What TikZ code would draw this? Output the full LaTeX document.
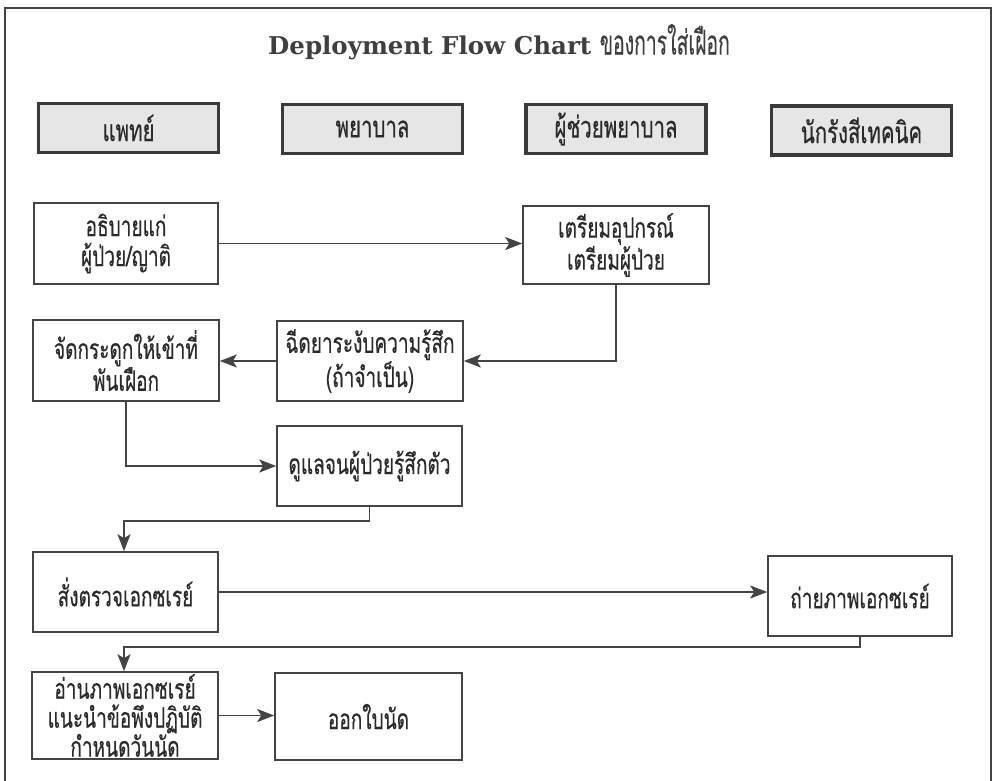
\documentclass[tikz,border=0pt]{standalone}
\usepackage{fontspec}
\newfontfamily\thaifont[Script=Thai,FakeStretch=0.68,FakeBold=0.4]{Loma}
\newfontfamily\thaititle[Script=Thai,FakeStretch=0.57,FakeBold=0.3]{Loma}
\newfontfamily\titlefont{DejaVu Serif}
\usetikzlibrary{arrows.meta}
\definecolor{ln}{HTML}{444444}
\definecolor{hln}{HTML}{3A3A3A}
\definecolor{tx}{HTML}{2A2A2A}
\definecolor{hfill}{HTML}{E6E6E6}
\tikzset{
  lane/.style={draw=hln, line width=3.8pt, fill=hfill, minimum width=180pt, minimum height=49pt,
    font=\thaifont\fontsize{30}{32}\selectfont, text=tx, inner sep=0pt},
  stepbox/.style={draw=ln, line width=1.6pt, minimum width=184pt, minimum height=80pt, align=center,
    font=\thaifont\fontsize{28}{30}\selectfont, text=tx, inner sep=0pt},
  flow/.style={draw=ln, line width=1.8pt, -{Stealth[length=17pt,width=13pt,inset=4pt]}},
}
\begin{document}
\begin{tikzpicture}[x=1pt,y=-1pt]
\useasboundingbox (0,0) rectangle (995,780);
\draw[ln, line width=1.3pt] (5,8) rectangle (991,795);
\node[text=tx!90] (title) at (499,42) {\titlefont\bfseries\fontsize{24.5}{30}\selectfont Deployment Flow Chart {\thaititle\mdseries\fontsize{34}{30}\selectfont ของการใส่เฝือก}};

\node[lane] (h1) at (128.5,128) {แพทย์};
\node[lane] (h2) at (372.5,129) {พยาบาล};
\node[lane] (h3) at (616,129) {ผู้ช่วยพยาบาล};
\node[lane] (h4) at (861.5,130.5) {นักรังสีเทคนิค};

\node[stepbox, minimum height=81pt] (A) at (126,243.5) {อธิบายแก่\\ผู้ป่วย/ญาติ};
\node[stepbox, minimum width=186pt, minimum height=78pt] (B) at (616,245) {เตรียมอุปกรณ์\\เตรียมผู้ป่วย};
\node[stepbox, minimum width=186pt, minimum height=81pt] (C) at (126,360.5) {จัดกระดูกให้เข้าที่\\พันเฝือก};
\node[stepbox, minimum width=186pt] (D) at (370,361) {ฉีดยาระงับความรู้สึก\\(ถ้าจำเป็น)};
\node[stepbox, minimum width=185pt] (E) at (369.5,466) {ดูแลจนผู้ป่วยรู้สึกตัว};
\node[stepbox, minimum width=185pt] (F) at (125.5,592) {สั่งตรวจเอกซเรย์};
\node[stepbox] (G) at (860,596) {ถ่ายภาพเอกซเรย์};
\node[stepbox, minimum width=186pt, minimum height=87pt, font=\thaifont\fontsize{28}{29}\selectfont] (H) at (125,715.5) {อ่านภาพเอกซเรย์\\แนะนำข้อพึงปฏิบัติ\\กำหนดวันนัด};
\node[stepbox, minimum width=187pt, minimum height=87pt] (I) at (368.5,716.5) {ออกใบนัด};

\coordinate (k1) at (124,521);
\coordinate (k2) at (124,647);

\draw[flow] (A.east) -- (A.east -| B.west);
\draw[flow] (B.south) |- (D.east);
\draw[flow] (D.west) -- (D.west -| C.east);
\draw[flow] (C.south) |- (E.west);
\draw[flow] (E.south) |- (k1) -- (k1 |- F.north);
\draw[flow] (F.east) -- (F.east -| G.west);
\draw[flow] (G.south) |- (k2) -- (k2 |- H.north);
\draw[flow] (H.east) -- (H.east -| I.west);
\end{tikzpicture}
\end{document}
